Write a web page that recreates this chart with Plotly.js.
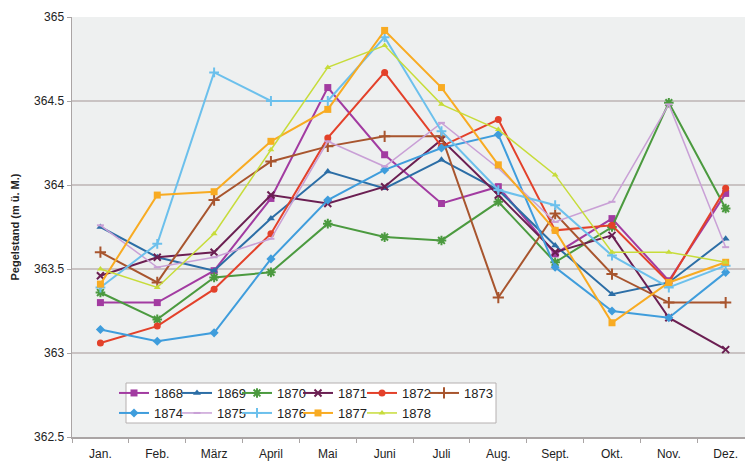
<!DOCTYPE html>
<html>
<head>
<meta charset="utf-8">
<script src="https://cdn.plot.ly/plotly-3.0.1.min.js"></script>
<style>html,body{margin:0;padding:0;background:#fff;}#chart{width:745px;height:462px;}</style>
</head>
<body>
<div id="chart"></div>
<script>
const months = ["Jan.","Feb.","März","April","Mai","Juni","Juli","Aug.","Sept.","Okt.","Nov.","Dez."];
const years = ["1868","1869","1870","1871","1872","1873","1874","1875","1876","1877","1878"];

const y1868 = [363.30,363.30,363.49,363.92,364.58,364.18,363.89,363.99,363.59,363.80,363.43,363.95];
const y1869 = [363.75,363.57,363.49,363.80,364.08,363.98,364.15,363.97,363.64,363.35,363.42,363.68];
const y1870 = [363.36,363.20,363.45,363.48,363.77,363.69,363.67,363.90,363.54,363.75,364.49,363.86];
const y1871 = [363.46,363.57,363.60,363.94,363.89,363.99,364.27,363.94,363.60,363.70,363.21,363.02];
const y1872 = [363.06,363.16,363.38,363.71,364.28,364.67,364.23,364.39,363.73,363.76,363.42,363.98];
const y1873 = [363.60,363.42,363.91,364.14,364.23,364.29,364.29,363.33,363.83,363.47,363.30,363.30];
const y1874 = [363.14,363.07,363.12,363.56,363.91,364.09,364.22,364.30,363.51,363.25,363.21,363.48];
const y1875 = [363.76,363.51,363.57,363.68,364.26,364.11,364.37,364.10,363.78,363.90,364.48,363.63];
const y1876 = [363.39,363.65,364.67,364.50,364.50,364.88,364.32,363.97,363.88,363.58,363.39,363.52];
const y1877 = [363.41,363.94,363.96,364.26,364.45,364.92,364.58,364.12,363.73,363.18,363.42,363.54];
const y1878 = [363.50,363.39,363.71,364.21,364.70,364.83,364.48,364.33,364.06,363.60,363.60,363.54];

const values = [y1868,y1869,y1870,y1871,y1872,y1873,y1874,y1875,y1876,y1877,y1878];
const colors = ["#a23ba1","#2c6ea6","#4b9a3f","#6b1f52","#e3412a","#a8552e","#3f9ddc","#c9a0d6","#6cc0ec","#f8ab22","#c7dc3a"];
const symbols = ["square","triangle-up","asterisk-open","x-thin-open","circle","cross-thin-open","diamond","line-ew-open","cross-thin-open","square","triangle-up"];
const sizes = [7,7,8,7,7,8,7,5,7,7,6];
const widths = [2,2,2,2,2,2,2,1.5,2,2,1.5];

// legend entry positions (px in the page)
const legendX = [114,177,237,298,362,424,114,177,237,298,362];
const legendY = [393,393,393,393,393,393,413,413,413,413,413];

const W = 745, H = 462;
const M = {l:72, r:0, t:17, b:25};
const PW = W - M.l - M.r, PH = H - M.t - M.b;

const traces = years.map((yr,i)=>({
  type:"scatter", mode:"lines+markers", name:yr,
  x:months, y:values[i],
  line:{color:colors[i], width:widths[i]},
  marker:{symbol:symbols[i], size:sizes[i], color:colors[i], line:{color:colors[i], width:symbols[i].endsWith("open")?2:0}},
  legend: i===0 ? "legend" : "legend"+(i+1)
}));

const font = {family:"Liberation Sans, Arial, sans-serif", size:12, color:"#222"};

const layout = {
  width:W, height:H,
  margin:M,
  paper_bgcolor:"#ffffff", plot_bgcolor:"#eef0f0",
  font:font,
  showlegend:true,
  xaxis:{type:"category", range:[-0.5,11.34], showgrid:false, showline:true, linecolor:"#aaa5a5", linewidth:1.5,
         ticks:"outside", tickson:"boundaries", ticklen:4, tickcolor:"#aaa5a5", tickfont:{size:12,color:"#222"}, zeroline:false,
         ticklabelstandoff:5},
  yaxis:{range:[362.5,365], dtick:0.5, showgrid:true, gridcolor:"#c9c3c3", gridwidth:1.5, showline:true, linecolor:"#aaa5a5", linewidth:1.5,
         ticks:"outside", ticklen:4, tickcolor:"#aaa5a5", tickfont:{size:12,color:"#222"}, zeroline:false,
         title:{text:"<b>Pegelstand (m ü. M.)</b>", font:{size:11,color:"#222"}, standoff:12}},
  shapes:[{type:"rect", xref:"paper", yref:"paper", x0:(126-M.l)/PW, x1:(496-M.l)/PW, y0:(H-M.b-423)/PH, y1:(H-M.b-383)/PH,
           fillcolor:"#ffffff", line:{color:"#b5b0b0", width:1}, layer:"above"}]
};
years.forEach((yr,i)=>{
  const key = i===0 ? "legend" : "legend"+(i+1);
  layout[key] = {orientation:"h", bgcolor:"rgba(0,0,0,0)", borderwidth:0,
    font:{family:font.family,size:13,color:"#222"}, itemwidth:30,
    xref:"paper", yref:"paper", x:(legendX[i]-M.l)/PW, y:(H-M.b-legendY[i])/PH, xanchor:"left", yanchor:"middle"};
});

Plotly.newPlot("chart", traces, layout, {displayModeBar:false, staticPlot:true});
</script>
</body>
</html>
